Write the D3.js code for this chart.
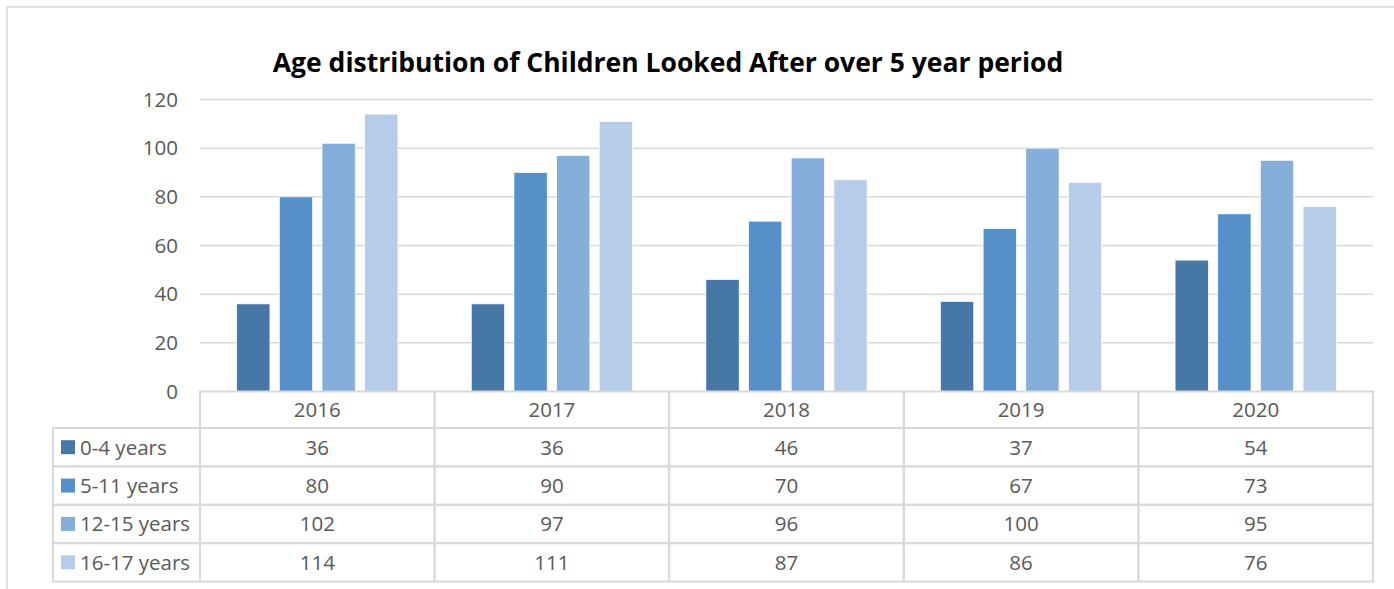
<!DOCTYPE html>
<html>
<head>
<meta charset="utf-8">
<script src="https://cdn.jsdelivr.net/npm/d3@7"></script>
<style>
  html, body { margin: 0; padding: 0; background: #fff; }
  svg { display: block; }
  text { font-family: "Open Sans", Lato, sans-serif; fill: #595959; }
</style>
</head>
<body>
<svg id="chart" width="1394" height="589"></svg>
<script>
// Children looked after, by age band and year
const years = ["2016", "2017", "2018", "2019", "2020"];
const seriesNames = ["0-4 years", "5-11 years", "12-15 years", "16-17 years"];
const age0to4 = [36, 36, 46, 37, 54];
const age5to11 = [80, 90, 70, 67, 73];
const age12to15 = [102, 97, 96, 100, 95];
const age16to17 = [114, 111, 87, 86, 76];
const yTicks = [0, 20, 40, 60, 80, 100, 120];
const colors = ["#4677a6", "#5591c8", "#86aedb", "#b7cce8"];

const seriesValues = [age0to4, age5to11, age12to15, age16to17];

const svg = d3.select("#chart");
const gridColor = "#d9d9d9";
const fontSize = "20.5px";

// outer chart frame
svg.append("path")
  .attr("d", "M7,589 V7 H1394")
  .attr("fill", "none").attr("stroke", gridColor).attr("stroke-width", 1.5);

// title
svg.append("text")
  .attr("x", 668).attr("y", 72)
  .attr("text-anchor", "middle")
  .style("font-size", "26.5px").style("font-weight", "bold").style("fill", "#000")
  .text("Age distribution of Children Looked After over 5 year period");

const plotLeft = 200, plotRight = 1373, plotTop = 99.5, plotBottom = 391.5;

const x = d3.scaleBand().domain(years).range([plotLeft, plotRight]).paddingInner(0).paddingOuter(0);
const xInner = d3.scaleBand().domain(seriesNames)
  .range([0, x.bandwidth()]).paddingInner(0.22).paddingOuter(0.86);
const y = d3.scaleLinear().domain([0, 120]).range([plotBottom, plotTop]);

// gridlines
svg.append("g").selectAll("line").data(yTicks.filter(t => t > 0)).join("line")
  .attr("x1", plotLeft).attr("x2", plotRight)
  .attr("y1", d => y(d)).attr("y2", d => y(d))
  .attr("stroke", gridColor).attr("stroke-width", 1.5);

// y axis labels
const yAxis = d3.axisLeft(y).tickValues(yTicks).tickSize(0).tickPadding(22);
const yg = svg.append("g").attr("transform", `translate(${plotLeft},0)`).call(yAxis);
yg.select(".domain").remove();
yg.selectAll("text").style("font-size", fontSize).style("fill", "#595959")
  .style("font-family", "'Open Sans', Lato, sans-serif");

// bars
const groups = svg.append("g").selectAll("g").data(years).join("g")
  .attr("transform", d => `translate(${x(d)},0)`);
groups.selectAll("rect")
  .data((yr, i) => seriesNames.map((s, j) => ({ s, j, v: seriesValues[j][i] })))
  .join("rect")
  .attr("x", d => xInner(d.s))
  .attr("width", xInner.bandwidth())
  .attr("y", d => y(d.v))
  .attr("height", d => plotBottom - y(d.v))
  .attr("fill", d => colors[d.j])
  .attr("stroke", "#fff").attr("stroke-width", 0.7);

// data table
const tableLeft = 53;
const headerTop = plotBottom, headerBottom = 428;
const rowH = (581.5 - headerBottom) / 4;
const rowY = d3.range(5).map(i => headerBottom + i * rowH);
const tbl = svg.append("g").attr("stroke", gridColor).attr("stroke-width", 2).attr("fill", "none");

// header row cells
years.forEach(yr => {
  tbl.append("rect").attr("x", x(yr)).attr("y", headerTop)
    .attr("width", x.bandwidth()).attr("height", headerBottom - headerTop);
});
// body cells
seriesNames.forEach((s, r) => {
  tbl.append("rect").attr("x", tableLeft).attr("y", rowY[r])
    .attr("width", plotLeft - tableLeft).attr("height", rowH);
  years.forEach(yr => {
    tbl.append("rect").attr("x", x(yr)).attr("y", rowY[r])
      .attr("width", x.bandwidth()).attr("height", rowH);
  });
});

// header text
svg.append("g").selectAll("text").data(years).join("text")
  .attr("x", d => x(d) + x.bandwidth() / 2)
  .attr("y", (headerTop + headerBottom) / 2 + 7.5)
  .attr("text-anchor", "middle").style("font-size", fontSize)
  .text(d => d);

// row labels with legend keys
seriesNames.forEach((s, r) => {
  const cy = rowY[r] + rowH / 2;
  svg.append("rect").attr("x", 61).attr("y", cy - 7).attr("width", 14).attr("height", 14)
    .attr("fill", colors[r]);
  svg.append("text").attr("x", 80).attr("y", cy + 7.5)
    .style("font-size", fontSize).text(s);
  years.forEach((yr, i) => {
    svg.append("text")
      .attr("x", x(yr) + x.bandwidth() / 2).attr("y", cy + 7.5)
      .attr("text-anchor", "middle").style("font-size", fontSize)
      .text(seriesValues[r][i]);
  });
});
</script>
</body>
</html>
